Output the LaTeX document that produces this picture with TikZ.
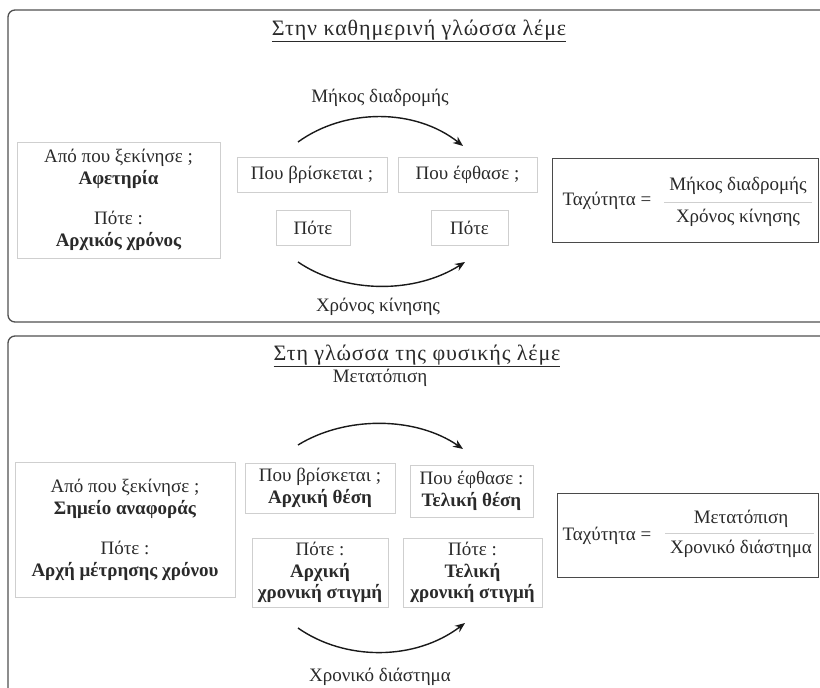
\documentclass[tikz,border=0pt]{standalone}
\usepackage{fontspec}
\setmainfont{Liberation Serif}
\usetikzlibrary{arrows.meta}
\definecolor{txt}{HTML}{2A2A2A}
\definecolor{frm}{HTML}{505050}
\definecolor{lb}{HTML}{CFCFCF}
\definecolor{fb}{HTML}{4A4A4A}
\tikzset{
  panel/.style={draw=frm, line width=1.3pt, rounded corners=7pt},
  lbox/.style={draw=lb, line width=0.9pt, fill=white, inner sep=0pt, align=center, text=txt},
  fbox/.style={draw=fb, line width=1pt, inner sep=0pt},
  lbl/.style={inner sep=0pt, text=txt, align=center},
  ttl/.style={lbl, font=\fontsize{22}{24}\selectfont\addfontfeature{LetterSpace=4}},
  arc/.style={line width=1.4pt, black!90, -{Stealth[length=10pt,width=8pt]}},
}
\begin{document}
\begin{tikzpicture}[x=1pt,y=-1pt,font=\fontsize{19}{21.5}\selectfont]
\useasboundingbox (0,0) rectangle (820,688);
\clip (0,0) rectangle (820,688);
\fill[white] (0,0) rectangle (820,688);

% ---------- top panel ----------
\draw[panel] (8,10) rectangle (840,322);
\node[ttl] (t1) at (419,31) {\underline{Στην καθημερινή γλώσσα λέμε}};
\node[lbl] (m1) at (380,98) {Μήκος διαδρομής};
\node[lbl] (x1) at (378,307) {Χρόνος κίνησης};

\node[lbox, minimum width=203pt, minimum height=116pt] (L1) at (118.5,200)
  {Από που ξεκίνησε ;\\ \textbf{Αφετηρία}\\[19pt] Πότε :\\ \textbf{Αρχικός χρόνος}};
\node[lbox, minimum width=150pt, minimum height=35pt] (W1) at (312,174.5) {Που βρίσκεται ;};
\node[lbox, minimum width=139pt, minimum height=35pt] (E1) at (467.5,174.5) {Που έφθασε ;};
\node[lbox, minimum width=74pt, minimum height=35pt] (P1) at (313,227.5) {Πότε};
\node[lbox, minimum width=77pt, minimum height=35pt] (Q1) at (469.5,227.5) {Πότε};

\node[fbox, minimum width=266pt, minimum height=84pt] (F1) at (685,200) {};
\node[lbl] (F1a) at (607,201) {Ταχύτητα =};
\node[lbl] (F1n) at (738,186) {Μήκος διαδρομής};
\node[lbl] (F1d) at (738,218) {Χρόνος κίνησης};
\coordinate (F1l) at (664,202);
\coordinate (F1r) at (812,202);
\draw[lb, line width=1pt] (F1l) -- (F1r);

\coordinate (a1s) at (298,142);
\coordinate (a1e) at (463,146);
\draw[arc] (a1s) .. controls (345,108) and (415,108) .. (a1e);
\coordinate (b1s) at (298,262);
\coordinate (b1e) at (465,262);
\draw[arc] (b1s) .. controls (345,294) and (415,294) .. (b1e);

% ---------- bottom panel ----------
\draw[panel] (8,336) rectangle (840,720);
\node[ttl] (t2) at (417,356) {\underline{Στη γλώσσα της φυσικής λέμε}};
\node[lbl] (m2) at (380,378) {Μετατόπιση};
\node[lbl] (x2) at (380,677) {Χρονικό διάστημα};

\node[lbox, minimum width=220pt, minimum height=135pt] (L2) at (125,530)
  {Από που ξεκίνησε ;\\ \textbf{Σημείο αναφοράς}\\[19pt] Πότε :\\ \textbf{Αρχή μέτρησης χρόνου}};
\node[lbox, minimum width=150pt, minimum height=50pt] (W2) at (320,488)
  {Που βρίσκεται ;\\ \textbf{Αρχική θέση}};
\node[lbox, minimum width=123pt, minimum height=52pt] (E2) at (471.5,491)
  {Που έφθασε :\\ \textbf{Τελική θέση}};
\node[lbox, minimum width=136pt, minimum height=69pt] (P2) at (320,572.5)
  {Πότε :\\ \textbf{Αρχική}\\ \textbf{χρονική στιγμή}};
\node[lbox, minimum width=139pt, minimum height=69pt] (Q2) at (472.5,572.5)
  {Πότε :\\ \textbf{Τελική}\\ \textbf{χρονική στιγμή}};

\node[fbox, minimum width=261pt, minimum height=84pt] (F2) at (687.5,535) {};
\node[lbl] (F2a) at (607,536) {Ταχύτητα =};
\node[lbl] (F2n) at (741,519) {Μετατόπιση};
\node[lbl] (F2d) at (741,549) {Χρονικό διάστημα};
\coordinate (F2l) at (665,533);
\coordinate (F2r) at (814,533);
\draw[lb, line width=1pt] (F2l) -- (F2r);

\coordinate (a2s) at (298,445);
\coordinate (a2e) at (463,449);
\draw[arc] (a2s) .. controls (345,416) and (415,416) .. (a2e);
\coordinate (b2s) at (298,628);
\coordinate (b2e) at (465,623);
\draw[arc] (b2s) .. controls (345,661) and (415,661) .. (b2e);
\end{tikzpicture}
\end{document}
